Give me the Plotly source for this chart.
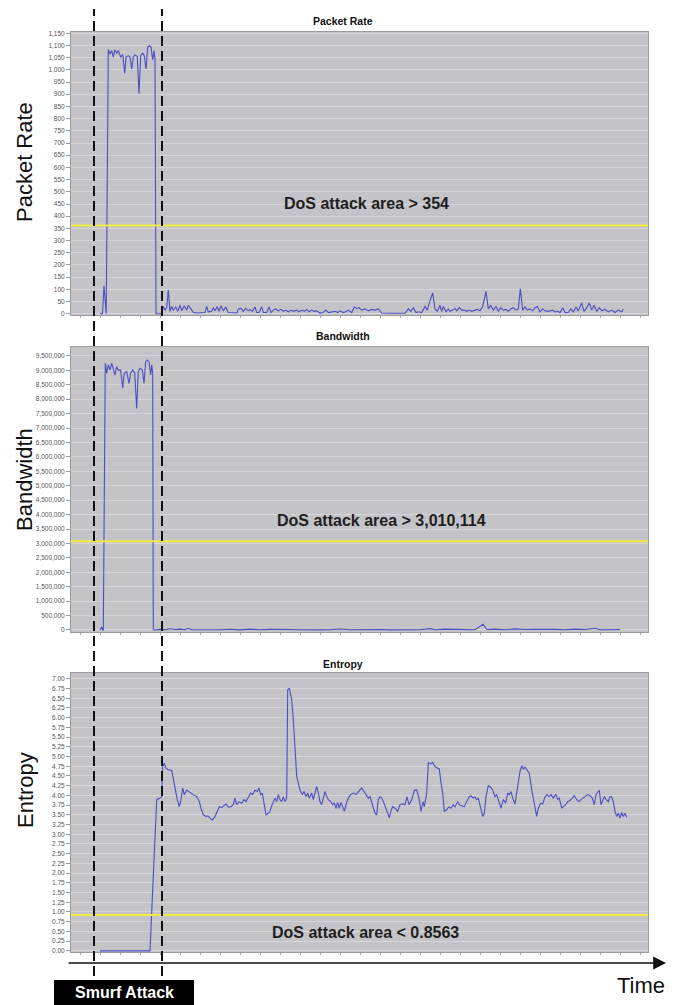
import plotly.graph_objects as go

# ---------------- data (time in seconds) ----------------
pr_time = [0, 2.5, 4, 5.5, 6.2, 8.3, 10, 11.7, 13.3, 14.7, 16.7, 18.3, 20.7, 22.7, 24.7, 26, 28.3, 30,
           31.7, 33.3, 35, 37.3, 39, 40.7, 42.7, 44.3, 46, 47.7, 49.3, 51, 52.7, 54, 55, 56, 61,
           61.7, 63.3, 65, 66.7, 68.3, 70, 71.7, 73.3, 75.7, 77.7, 80, 81.7, 84.3, 86.7, 88.3, 91, 93.3,
           97, 103, 105, 106.7, 108.3, 111.7, 113.3, 115, 117.3, 119, 121, 123.3, 125.7, 128.3, 132, 137,
           138.3, 141, 143.3, 145.7, 148.3, 150, 152.3, 155, 156.7, 159, 161.7, 163.3, 166.7, 169, 171,
           173.3, 175.7, 178.3, 181, 183.3, 185.7, 188.3, 191, 193.3, 196.7, 199, 201.7, 204.3, 206.7,
           209, 211.7, 214.3, 216.7, 220, 223.3, 225.7, 228.3, 231.7, 235, 237.7, 240, 243.3, 245.7,
           248.3, 251.7, 254.3, 256.7, 259, 261.7, 265, 268.3, 271.7, 275, 278.3, 281.7, 290, 300, 305,
           308.3, 310.7, 313.3, 316, 318.3, 321.7, 325, 327.3, 329.3, 332.7, 335, 337.3, 340, 341.7,
           343.3, 346, 348.3, 350, 352.7, 355, 356.7, 359.3, 361.7, 364, 366.7, 369.3, 371.7, 375,
           377.3, 380, 382.7, 386, 388.3, 390.7, 393.3, 396, 398.3, 400.7, 403.3, 406, 408.3, 410.7,
           413.3, 416, 418.3, 420.3, 422.7, 425, 427.3, 430, 432.7, 435, 437.3, 440, 442.7, 445, 447.3,
           450, 452.7, 455, 457.3, 460, 462.7, 465, 468.3, 470.7, 473.3, 476, 478.3, 481.7, 484, 486.7,
           489.3, 491.7, 494, 496.7, 499.3, 501.7, 505, 508.3, 511.7, 515, 518.3, 521.7, 523.3]
pr_value = [0, 0, 115, 0, 0, 1083, 1065, 1079, 1052, 1082, 1068, 1079, 1052, 1063, 986, 1052, 1058, 1052,
            1004, 1054, 1061, 1054, 902, 1058, 1068, 1058, 1004, 1093, 1099, 1093, 1041, 1079, 1045, 0, 0,
            0, 30, 15, 25, 97, 10, 30, 15, 28, 10, 35, 12, 33, 15, 35, 20, 5,
            3, 3, 5, 30, 8, 10, 25, 12, 30, 10, 33, 12, 28, 5, 3, 3,
            20, 22, 10, 22, 12, 18, 10, 28, 5, 5, 28, 5, 5, 28, 5,
            15, 20, 12, 18, 10, 15, 8, 15, 10, 15, 8, 15, 10, 18,
            8, 15, 10, 12, 3, 5, 15, 5, 8, 10, 5, 12, 5, 8,
            15, 5, 28, 22, 25, 15, 20, 12, 18, 15, 20, 3, 2, 2, 2,
            20, 10, 25, 5, 8, 5, 30, 15, 45, 85, 20, 10, 35, 10,
            30, 8, 20, 10, 15, 22, 12, 25, 15, 15, 10, 15, 10, 15,
            18, 12, 30, 92, 20, 35, 15, 30, 10, 25, 15, 18, 10, 20,
            25, 15, 20, 102, 15, 28, 15, 20, 12, 25, 30, 8, 20, 12, 10,
            12, 15, 8, 10, 5, 25, 5, 5, 20, 8, 28, 12, 45, 10, 25,
            45, 15, 35, 10, 25, 12, 18, 8, 15, 5, 15, 8, 20]

bw_time = [0, 1.7, 2.5, 3.3, 5.3, 6.7, 8.3, 10, 11.7, 13.3, 15, 16.7, 18.3, 20.7, 22.7, 24.3, 26.7, 29,
           30.7, 32.7, 34.7, 36.7, 38.3, 40, 42.3, 44, 45.7, 47.3, 49, 50.7, 51.7, 52.7, 53.3,
           55, 60, 65, 70, 75, 80, 85, 88, 92, 100, 110, 120, 130, 140, 150, 160, 170, 180, 190, 200,
           210, 220, 230, 240, 250, 260, 270, 280, 290, 300, 310, 320, 330, 335, 345, 355, 365, 375,
           383, 387, 395, 405, 415, 425, 435, 445, 455, 465, 475, 485, 495, 500, 510, 520]
bw_value = [0, 100000, 0, 0, 9250000, 8900000, 9190000, 9010000, 9250000, 9070000, 8840000, 9130000,
            9010000, 9010000, 8380000, 8900000, 8960000, 8550000, 8900000, 9010000, 8920000, 7680000,
            8960000, 9070000, 9010000, 8550000, 9300000, 9360000, 9300000, 8840000, 9190000, 8900000, 0,
            0, 20000, 10000, 40000, 15000, 30000, 10000, 60000, 10000, 5000, 20000, 10000, 25000, 5000,
            30000, 10000, 20000, 5000, 15000, 10000, 20000, 5000, 10000, 35000, 10000, 20000, 5000, 15000,
            5000, 5000, 20000, 10000, 45000, 10000, 30000, 15000, 25000, 10000, 200000, 15000, 30000,
            10000, 40000, 15000, 25000, 10000, 20000, 10000, 30000, 15000, 60000, 10000, 20000, 15000]

en_time = [0, 50, 54, 56.7, 60, 61.7, 62.7, 64.3, 66, 68.3, 71.7, 73.3, 75, 77.3, 79.3, 80.7, 82.7, 84.3,
           86.7, 90, 93.3, 96.7, 99.3, 101, 103.3, 106, 108.3, 110.7, 112.7, 115, 117.3, 119.3, 121.7,
           124, 126, 128.3, 130.7, 133.3, 135, 136.7, 139, 141.7, 144, 146, 148.3, 150.7, 152.7, 155,
           157.3, 159, 160.7, 162.3, 164, 166, 168.3, 170, 171.7, 173.3, 175, 176.7, 178.3, 180, 181.7,
           183.3, 185, 186.7, 187.7, 189.3, 191.7, 193.3, 195, 196.7, 198.3, 200, 202.3, 204, 206,
           207.7, 209.3, 211.7, 213.3, 215, 216.7, 218.3, 220, 221.7, 223.3, 225, 226.7, 228.3, 230.7,
           232.7, 234.3, 236, 237.7, 239.3, 241, 242.7, 244.3, 246, 248.3, 250.7, 253.3, 256, 258.3,
           261.7, 264, 266, 268.3, 270, 271.7, 273.3, 275, 276.7, 278.3, 280, 281.7, 284, 286, 287.7,
           289.3, 290.7, 292.7, 295, 297.7, 300, 302.3, 305, 307, 309, 311.7, 314.3, 316.7, 319, 321,
           323, 324.3, 326.7, 328.3, 330.7, 332.7, 335, 337.7, 339.3, 341, 342.7, 344.3, 346.7, 349,
           351, 353.3, 355, 357.7, 359.3, 361.7, 364.3, 366.7, 369, 371, 373.3, 375, 376.7, 378.3,
           380.7, 382.7, 384.3, 386, 388.3, 390.7, 392.7, 395, 396.7, 399, 401, 403.3, 405.7, 407.7,
           409.3, 411, 412.7, 415, 417.7, 420, 421.7, 423.3, 425, 427.3, 429.3, 431.7, 434.3, 436.7,
           438.3, 440.7, 442.7, 445, 447, 449, 451, 453.3, 455.7, 457.7, 459.3, 461.7, 463.3, 465.7,
           467.7, 470, 472.3, 474.3, 476.7, 479, 481, 483.3, 485.7, 487.7, 490, 492.3, 494.3, 496,
           498.3, 499.3, 501, 502.7, 504.3, 506, 508.3, 510, 511.7, 513.3, 515, 516.7, 518.3, 520,
           521.7, 523.3, 525, 526.7]
en_value = [0, 0, 2.34, 3.89, 3.93, 3.97, 4.74, 4.83, 4.70, 4.66, 4.64, 4.40, 4.23, 3.89, 3.71, 3.84, 4.19,
            4.02, 4.14, 4.07, 4.02, 3.97, 3.84, 3.67, 3.50, 3.46, 3.47, 3.39, 3.37, 3.46, 3.59, 3.71,
            3.69, 3.73, 3.78, 3.70, 3.71, 3.76, 3.93, 3.76, 3.84, 3.80, 3.89, 3.84, 3.97, 4.06, 4.02,
            4.13, 4.10, 4.19, 4.02, 4.06, 3.80, 3.50, 3.54, 3.59, 3.73, 3.84, 3.93, 3.84, 4.02, 3.89,
            3.84, 3.97, 3.84, 3.93, 6.72, 6.76, 6.46, 5.95, 5.26, 4.49, 4.32, 4.14, 4.02, 4.10, 3.97,
            4.06, 3.93, 4.06, 3.89, 4.10, 4.23, 4.06, 3.84, 3.76, 3.97, 4.10, 3.97, 3.89, 3.84,
            3.76, 3.80, 3.67, 3.82, 3.67, 3.82, 3.71, 3.59, 3.76, 3.93, 4.02, 4.06, 4.02, 4.10,
            4.19, 4.10, 4.02, 3.93, 3.97, 3.84, 3.71, 3.54, 3.50, 3.89, 3.97, 3.93, 3.80, 3.63, 3.54,
            3.42, 3.59, 3.71, 3.67, 3.59, 3.76, 3.78, 3.76, 3.96, 3.76, 3.89, 4.13, 4.14, 3.93, 3.59,
            3.84, 3.71, 4.06, 4.85, 4.81, 4.85, 4.74, 4.70, 4.68, 4.32, 4.06, 3.59, 3.63, 3.71,
            3.67, 3.76, 3.70, 3.84, 3.76, 3.73, 3.71, 3.84, 3.96, 3.99, 3.93, 3.96, 3.89, 3.93,
            3.67, 3.46, 3.54, 3.97, 4.25, 4.21, 4.14, 3.97, 4.02, 3.80, 3.67, 3.89, 3.80, 4.06,
            4.02, 4.10, 3.93, 3.78, 4.23, 4.62, 4.76, 4.68, 4.73, 4.66, 4.57, 4.14, 3.76, 3.46,
            3.67, 3.80, 3.78, 3.96, 4.02, 3.97, 4.02, 3.93, 4.03, 3.90, 3.93, 3.67, 3.71, 3.76,
            3.84, 3.87, 3.93, 3.99, 3.89, 3.84, 3.89, 3.93, 3.97, 4.02, 3.99, 3.93, 3.76, 4.02,
            4.10, 4.13, 3.76, 3.90, 3.97, 3.90, 3.84, 3.97, 3.96, 3.84, 3.59, 3.46, 3.54, 3.42,
            3.56, 3.46, 3.54, 3.44]

thresholds = [362, 3080000, 0.92]
threshold_labels = ["DoS attack area > 354", "DoS attack area > 3,010,114", "DoS attack area < 0.8563"]
panel_titles = ["Packet Rate", "Bandwidth", "Entropy"]
axis_titles = ["Packet Rate", "Bandwidth", "Entropy"]
attack_window = [-6, 62]   # dashed markers (time)

# ---------------- layout helpers ----------------
# the page body has an 8px margin, so the figure origin sits at page (8, 8)
OFF = 8
PAGE_W, PAGE_H = 681, 1005
PLOT_L, PLOT_R, PLOT_T, PLOT_B = 71, 648, 32, 952   # plot area in page pixels
W, H = PAGE_W - OFF, PAGE_H - OFF
ML, MR, MT, MB = PLOT_L - OFF, PAGE_W - PLOT_R, PLOT_T - OFF, PAGE_H - PLOT_B
PW, PH = PLOT_R - PLOT_L, PLOT_B - PLOT_T
XR = [-29, 548]

def px_x(p):
    return (p - PLOT_L) / PW

def px_y(p):
    return (PLOT_B - p) / PH

def t_to_paper(t):
    return (t - XR[0]) / (XR[1] - XR[0])

domains = [[px_y(315), px_y(32)], [px_y(632), px_y(347)], [0, px_y(673)]]
yranges = [[-5, 1155], [-70000, 9810000], [-0.03, 7.15]]
dticks = [50, 500000, 0.25]
tfmts = [",d", ",d", ".2f"]
series = [(pr_time, pr_value), (bw_time, bw_value), (en_time, en_value)]
ann_pos = [(266, 453), (281, 3810000), (265, 0.46)]
title_y = [21, 336, 664]
ytitle_y = [162, 480, 790]

BG = "#c4c3c8"
GRID = "#d6d5da"
LINE = "#4b4fc2"

fig = go.Figure()
layout = dict(
    width=W, height=H, margin=dict(l=ML, r=MR, t=MT, b=MB, autoexpand=False),
    paper_bgcolor="white", plot_bgcolor=BG, showlegend=False,
    font=dict(family="Liberation Sans, Arial, sans-serif", color="#222"),
    annotations=[], shapes=[],
)

def paper_text(x, y, text, size, color="#111", angle=0):
    return dict(x=px_x(x), y=px_y(y), xref="paper", yref="paper", text=text, showarrow=False,
                xanchor="center", yanchor="middle", textangle=angle,
                font=dict(size=size, color=color))

for i in range(3):
    n = "" if i == 0 else str(i + 1)
    xa, ya = "x" + n, "y" + n
    t, v = series[i]
    fig.add_trace(go.Scatter(x=t, y=v, mode="lines", line=dict(color=LINE, width=1.1),
                             xaxis=xa, yaxis=ya, hoverinfo="skip"))
    layout["xaxis" + n] = dict(domain=[0, 1], range=XR, anchor=ya, showticklabels=False,
                               showgrid=False, zeroline=False, showline=True, mirror=True,
                               linecolor="#9c9ca0", linewidth=1, ticks="outside", ticklen=2,
                               tickcolor="#a8a8ac", dtick=20, automargin=False)
    layout["yaxis" + n] = dict(domain=domains[i], range=yranges[i], anchor=xa, dtick=dticks[i],
                               tick0=0, tickformat=tfmts[i], showgrid=True, gridcolor=GRID,
                               gridwidth=1, zeroline=False, showline=True, mirror=True,
                               linecolor="#9c9ca0", linewidth=1, ticks="outside", ticklen=4,
                               tickcolor="#9c9ca0", automargin=False,
                               tickfont=dict(size=6.5, color="#555", family="Liberation Sans, Arial"))
    # threshold line
    layout["shapes"].append(dict(type="line", xref=xa + " domain", yref=ya, x0=0, x1=1,
                                 y0=thresholds[i], y1=thresholds[i],
                                 line=dict(color="#f2ee3a", width=2)))
    # threshold label
    layout["annotations"].append(dict(x=ann_pos[i][0], y=ann_pos[i][1], xref=xa, yref=ya,
                                      text="<b>" + threshold_labels[i] + "</b>", showarrow=False,
                                      xanchor="center", yanchor="middle",
                                      font=dict(size=16, color="#1e1e1e")))
    # panel title
    layout["annotations"].append(paper_text(343, title_y[i], "<b>" + panel_titles[i] + "</b>", 10.5))
    # left axis title
    layout["annotations"].append(paper_text(25, ytitle_y[i], axis_titles[i], 22, angle=-90))

# dashed attack-window markers
for t in attack_window:
    xp = t_to_paper(t)
    layout["shapes"].append(dict(type="line", xref="paper", yref="paper", x0=xp, x1=xp,
                                 y0=px_y(976), y1=px_y(9),
                                 line=dict(color="#111", width=2, dash="10px,5px")))

# time arrow
layout["annotations"].append(dict(x=px_x(666), y=px_y(963), xref="paper", yref="paper",
                                  ax=-599, ay=0, axref="pixel", ayref="pixel", text="",
                                  showarrow=True, arrowhead=2, arrowsize=1.6, arrowwidth=1.6,
                                  arrowcolor="#111"))
layout["annotations"].append(paper_text(641, 985, "Time", 22))

# Smurf Attack label
layout["shapes"].append(dict(type="rect", xref="paper", yref="paper", x0=px_x(54), x1=px_x(194),
                             y0=px_y(1006), y1=px_y(980), fillcolor="#000", line=dict(width=0),
                             layer="below"))
layout["annotations"].append(paper_text(124, 993, "<b>Smurf Attack</b>", 16, color="white"))

fig.update_layout(**layout)
fig.write_html("out.html")
